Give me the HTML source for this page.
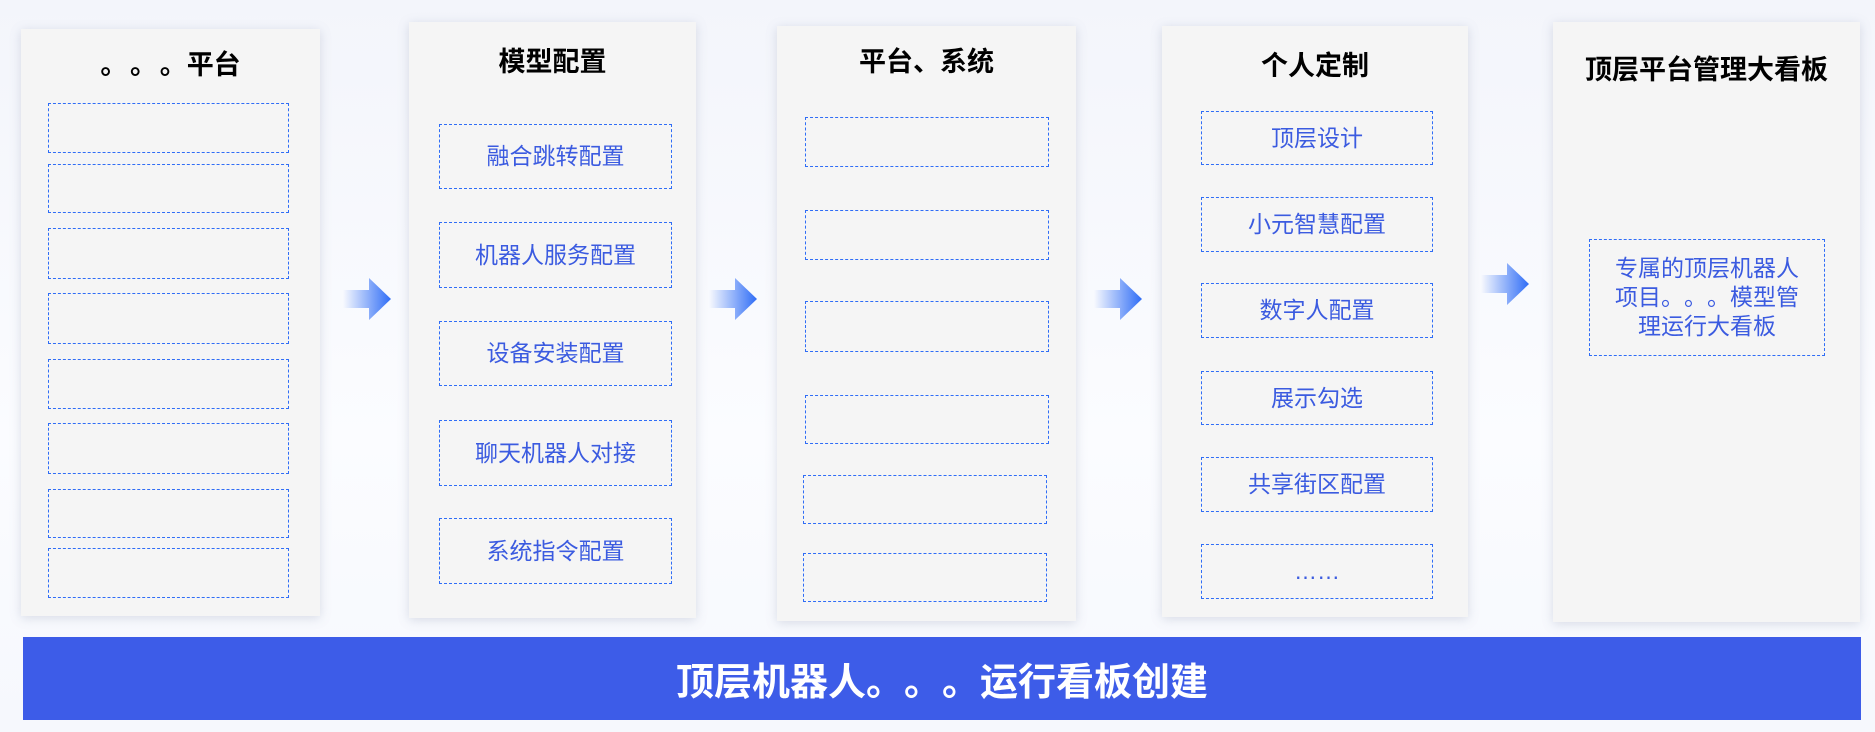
<!DOCTYPE html>
<html><head><meta charset="utf-8"><style>
body{margin:0;width:1875px;height:732px;position:relative;overflow:hidden;background:linear-gradient(#f3f5fb,#fbfcff 60%,#f6f8fd);font-family:"Liberation Sans","Noto Sans CJK SC",sans-serif}
.p{position:absolute;background:#f5f5f5;box-shadow:0 2px 10px rgba(120,130,160,.25)}
.t{position:absolute;left:0;right:0;text-align:center;font-weight:bold;font-size:27px;color:#000}
.b{position:absolute;border:1.5px dashed #2f6df6;box-sizing:border-box;display:flex;align-items:center;justify-content:center;color:#3b5be0;font-size:23px;text-align:center;line-height:29px}
.d{display:inline-block;width:1em;text-align:left}
.a{position:absolute;width:48px;height:42px}
.bar{position:absolute;left:23px;top:637px;width:1838px;height:83px;background:#3d5ce8;color:#fff;font-weight:bold;font-size:38px;display:flex;align-items:center;justify-content:center}
</style></head><body>
<div class="p" style="left:21px;top:29px;width:299px;height:587px"><div class="t" style="top:14px"><span class="d" style="width:1.1em">。</span><span class="d" style="width:1.1em">。</span><span class="d">。</span>平台</div></div>
<div class="p" style="left:409px;top:22px;width:287px;height:596px"><div class="t" style="top:18px">模型配置</div></div>
<div class="p" style="left:777px;top:26px;width:299px;height:595px"><div class="t" style="top:14px">平台、系统</div></div>
<div class="p" style="left:1162px;top:26px;width:306px;height:591px"><div class="t" style="top:18px">个人定制</div></div>
<div class="p" style="left:1553px;top:22px;width:307px;height:600px"><div class="t" style="top:26px">顶层平台管理大看板</div></div>

<div class="b" style="left:48px;top:103px;width:241px;height:50px"></div>
<div class="b" style="left:48px;top:164px;width:241px;height:49px"></div>
<div class="b" style="left:48px;top:228px;width:241px;height:51px"></div>
<div class="b" style="left:48px;top:293px;width:241px;height:51px"></div>
<div class="b" style="left:48px;top:359px;width:241px;height:50px"></div>
<div class="b" style="left:48px;top:423px;width:241px;height:51px"></div>
<div class="b" style="left:48px;top:489px;width:241px;height:49px"></div>
<div class="b" style="left:48px;top:548px;width:241px;height:50px"></div>

<div class="b" style="left:439px;top:124px;width:233px;height:65px">融合跳转配置</div>
<div class="b" style="left:439px;top:222px;width:233px;height:66px">机器人服务配置</div>
<div class="b" style="left:439px;top:321px;width:233px;height:65px">设备安装配置</div>
<div class="b" style="left:439px;top:420px;width:233px;height:66px">聊天机器人对接</div>
<div class="b" style="left:439px;top:518px;width:233px;height:66px">系统指令配置</div>

<div class="b" style="left:805px;top:117px;width:244px;height:50px"></div>
<div class="b" style="left:805px;top:210px;width:244px;height:50px"></div>
<div class="b" style="left:805px;top:301px;width:244px;height:51px"></div>
<div class="b" style="left:805px;top:395px;width:244px;height:49px"></div>
<div class="b" style="left:803px;top:475px;width:244px;height:49px"></div>
<div class="b" style="left:803px;top:553px;width:244px;height:49px"></div>

<div class="b" style="left:1201px;top:111px;width:232px;height:54px">顶层设计</div>
<div class="b" style="left:1201px;top:197px;width:232px;height:55px">小元智慧配置</div>
<div class="b" style="left:1201px;top:283px;width:232px;height:55px">数字人配置</div>
<div class="b" style="left:1201px;top:371px;width:232px;height:54px">展示勾选</div>
<div class="b" style="left:1201px;top:457px;width:232px;height:55px">共享街区配置</div>
<div class="b" style="left:1201px;top:544px;width:232px;height:55px">……</div>

<div class="b" style="left:1589px;top:239px;width:236px;height:117px"><div>专属的顶层机器人<br>项目<span class="d">。</span><span class="d">。</span><span class="d">。</span>模型管<br>理运行大看板</div></div>

<svg width="0" height="0" style="position:absolute"><defs><linearGradient id="g" x1="0" x2="1"><stop offset="0" stop-color="#2f6df6" stop-opacity="0"/><stop offset="1" stop-color="#2f6df6"/></linearGradient></defs></svg>
<svg class="a" style="left:343px;top:278px" viewBox="0 0 48 42"><path d="M0 12H26V0L48 21 26 42V30H0Z" fill="url(#g)"/></svg>
<svg class="a" style="left:709px;top:278px" viewBox="0 0 48 42"><path d="M0 12H26V0L48 21 26 42V30H0Z" fill="url(#g)"/></svg>
<svg class="a" style="left:1094px;top:278px" viewBox="0 0 48 42"><path d="M0 12H26V0L48 21 26 42V30H0Z" fill="url(#g)"/></svg>
<svg class="a" style="left:1481px;top:263px" viewBox="0 0 48 42"><path d="M0 12H26V0L48 21 26 42V30H0Z" fill="url(#g)"/></svg>

<div class="bar">顶层机器人<span class="d">。</span><span class="d">。</span><span class="d">。</span>运行看板创建</div>
</body></html>
